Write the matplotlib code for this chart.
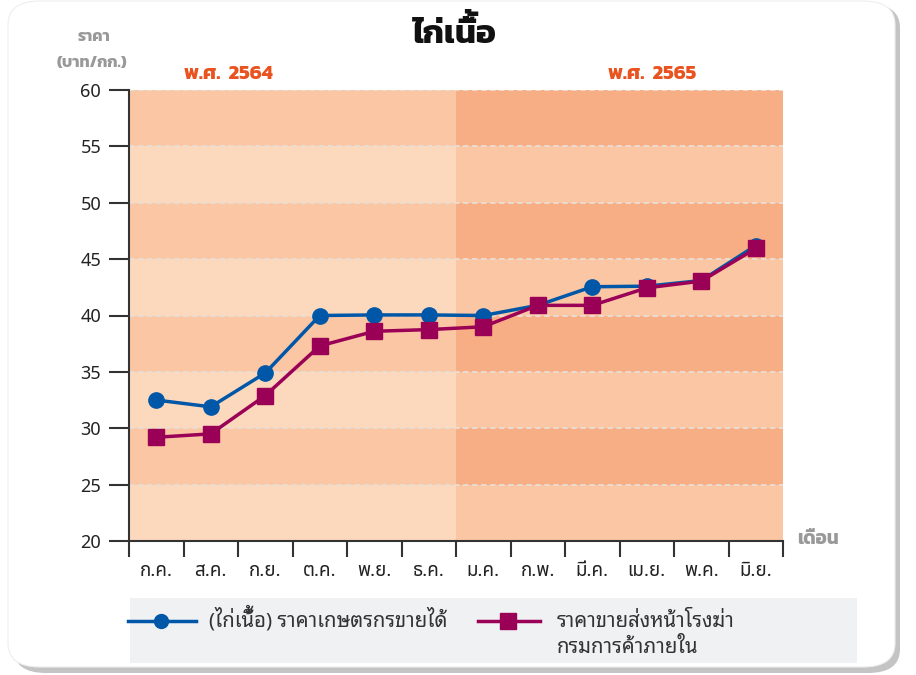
import matplotlib
matplotlib.use('Agg')
import matplotlib.pyplot as plt
from matplotlib.patches import FancyBboxPatch
from matplotlib.lines import Line2D
from matplotlib.transforms import IdentityTransform
import numpy as np

months = ['ก.ค.', 'ส.ค.', 'ก.ย.', 'ต.ค.', 'พ.ย.', 'ธ.ค.', 'ม.ค.', 'ก.พ.', 'มี.ค.', 'เม.ย.', 'พ.ค.', 'มิ.ย.']
farm_price = [32.5, 31.9, 34.9, 40.0, 40.05, 40.05, 40.0, 40.9, 42.55, 42.6, 43.1, 46.2]
slaughter_price = [29.2, 29.5, 32.9, 37.3, 38.6, 38.75, 39.0, 40.9, 40.9, 42.45, 43.05, 45.95]
yticks = [20, 25, 30, 35, 40, 45, 50, 55, 60]
years = ['พ.ศ. 2564', 'พ.ศ. 2565']

blue = '#0057A8'
red = '#9B0057'
orange = '#E8531F'
grey_txt = '#999999'
head_font = ['Kanit', 'DejaVu Sans']
tick_font = ['Noto Sans Thai', 'DejaVu Sans']
leg_font = ['Noto Sans Thai Looped', 'DejaVu Sans']

W, H = 916, 675
fig = plt.figure(figsize=(W / 100, H / 100), dpi=100)
fig.patch.set_facecolor('white')

def fx(px):
    return px / W

def fy(py):
    return 1 - py / H

# card with shadow
shadow = FancyBboxPatch((fx(14), fy(673)), fx(900) - fx(14), fy(4) - fy(673),
                        boxstyle='round,pad=0,rounding_size=0.035', transform=fig.transFigure,
                        facecolor='#C4C4C4', edgecolor='none', zorder=-3)
card = FancyBboxPatch((fx(8), fy(667)), fx(895) - fx(8), fy(1) - fy(667),
                      boxstyle='round,pad=0,rounding_size=0.035', transform=fig.transFigure,
                      facecolor='white', edgecolor='#EEEEEE', linewidth=0.8, zorder=-2)
fig.patches.extend([shadow, card])

ax = fig.add_axes([fx(129), fy(541), fx(783) - fx(129), fy(90) - fy(541)])
ax.set_xlim(-0.5, 11.5)
ax.set_ylim(20, 60)
ax.set_facecolor('none')

# background bands
light = ['#FCD8BC', '#FAC6A3']
dark = ['#FAC6A3', '#F8AE84']
for i, y0 in enumerate(yticks[:-1]):
    k = 0 if i % 2 == 0 else 1
    ax.axhspan(y0, y0 + 5, xmin=0, xmax=0.5, color=light[k], lw=0, zorder=0)
    ax.axhspan(y0, y0 + 5, xmin=0.5, xmax=1, color=dark[k], lw=0, zorder=0)
for y in yticks[1:]:
    ax.axhline(y, color='#E9DED6', lw=1.3, ls=(0, (3, 2)), zorder=1)

x = np.arange(len(months))
ax.plot(x, farm_price, color=blue, lw=2.5, marker='o', ms=11, zorder=3)
ax.plot(x, slaughter_price, color=red, lw=2.5, marker='s', ms=11.5, zorder=4)

for s in ['top', 'right']:
    ax.spines[s].set_visible(False)
for s in ['left', 'bottom']:
    ax.spines[s].set_color('#333333')
    ax.spines[s].set_linewidth(1.5)

ax.set_yticks(yticks)
ax.set_yticklabels([str(v) for v in yticks], fontsize=13, family=tick_font, color='#222222')
ax.tick_params(axis='y', length=14.5, width=1.5, color='#333333', pad=5.5)
ax.set_xticks(x)
ax.set_xticklabels(months, fontsize=13.5, family=tick_font, color='#222222')
ax.set_xticks(np.arange(-0.5, 12, 1), minor=True)
ax.tick_params(axis='x', which='major', length=0, pad=15)
ax.tick_params(axis='x', which='minor', length=11.5, width=1.5, color='#333333')

# titles and labels
title = fig.text(fx(455), fy(43), 'ไก่เนื้อ', fontsize=24, fontweight='bold', family=head_font,
                 ha='center', va='baseline', color='#111111')
fig.text(fx(94), fy(37), 'ราคา', fontsize=11.5, fontweight='bold', family=head_font,
         ha='center', va='center', color=grey_txt)
fig.text(fx(92), fy(63), '(บาท/กก.)', fontsize=11.5, fontweight='bold', family=head_font,
         ha='center', va='center', color=grey_txt)
fig.text(fx(818), fy(539), 'เดือน', fontsize=13.5, fontweight='bold', family=head_font,
         ha='center', va='center', color=grey_txt)
ax.text(0.152, 1.036, years[0].replace(' ', '  '), transform=ax.transAxes, fontsize=14.5, fontweight='bold',
        family=head_font, ha='center', va='center', color=orange)
ax.text(0.80, 1.036, years[1].replace(' ', '  '), transform=ax.transAxes, fontsize=14.5, fontweight='bold',
        family=head_font, ha='center', va='center', color=orange)

# legend panel
lax = fig.add_axes([fx(130), fy(663), fx(857) - fx(130), fy(598) - fy(663)])
lax.set_xlim(130, 857)
lax.set_ylim(663, 598)
lax.set_facecolor('#F0F1F3')
lax.set_xticks([])
lax.set_yticks([])
for s in lax.spines.values():
    s.set_visible(False)
lax.add_line(Line2D([128, 196], [621, 621], color=blue, lw=2.5, clip_on=False))
lax.plot([161], [621], marker='o', ms=10, color=blue, clip_on=False)
leg1 = lax.text(209, 627, '(ไก่เนื้อ) ราคาเกษตรกรขายได้', fontsize=14.6, family=leg_font,
                va='baseline', ha='left', color='#333333')
lax.add_line(Line2D([478, 540], [621, 621], color=red, lw=2.5))
lax.plot([508], [621], marker='s', ms=11, color=red)
lax.text(557, 627, 'ราคาขายส่งหน้าโรงฆ่า', fontsize=14.6, family=leg_font,
         va='baseline', ha='left', color='#333333')
lax.text(557, 653, 'กรมการค้าภายใน', fontsize=14.6, family=leg_font,
         va='baseline', ha='left', color='#333333')

# matplotlib does no Thai mark stacking: lift the tone mark that sits on sara uue
renderer = fig.canvas.get_renderer()

def lift_tone(t, prefix, lift=0.2):
    bb = t.get_window_extent(renderer)
    base_y = t.get_transform().transform(t.get_position())[1]
    fp = t.get_fontproperties()
    tmp = fig.text(bb.x0, base_y, prefix, transform=IdentityTransform(), fontproperties=fp,
                   ha='left', va='baseline')
    pb = tmp.get_window_extent(renderer)
    tmp.remove()
    em = fp.get_size_in_points() * fig.dpi / 72
    fig.text(pb.x1, base_y + lift * em, '\u0e49', transform=IdentityTransform(), fontproperties=fp,
             ha='right', va='baseline', color=t.get_color())

lift_tone(title, 'ไก่เนื')
lift_tone(leg1, '(ไก่เนื')

fig.savefig('out.png', dpi=100)
